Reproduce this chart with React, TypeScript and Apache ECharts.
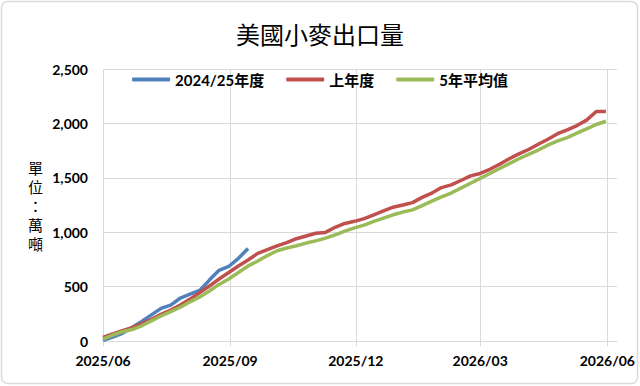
import React, { useEffect, useRef } from "react";
import * as echarts from "echarts";

const weekDates: string[] = [
  "2025-06-01", "2025-06-08", "2025-06-15", "2025-06-22", "2025-06-29",
  "2025-07-06", "2025-07-13", "2025-07-20", "2025-07-27", "2025-08-03",
  "2025-08-10", "2025-08-17", "2025-08-24", "2025-08-31", "2025-09-07",
  "2025-09-14", "2025-09-21", "2025-09-28", "2025-10-05", "2025-10-12",
  "2025-10-19", "2025-10-26", "2025-11-02", "2025-11-09", "2025-11-16",
  "2025-11-23", "2025-11-30", "2025-12-07", "2025-12-14", "2025-12-21",
  "2025-12-28", "2026-01-04", "2026-01-11", "2026-01-18", "2026-01-25",
  "2026-02-01", "2026-02-08", "2026-02-15", "2026-02-22", "2026-03-01",
  "2026-03-08", "2026-03-15", "2026-03-22", "2026-03-29", "2026-04-05",
  "2026-04-12", "2026-04-19", "2026-04-26", "2026-05-03", "2026-05-10",
  "2026-05-17", "2026-05-24", "2026-05-31",
];

const currentYear: number[] = [
  5, 35, 70, 125, 180, 240, 300, 330, 395, 430, 465, 560, 650, 685, 760, 850,
];

const lastYear: number[] = [
  34, 65, 95, 122, 160, 200, 245, 285, 330, 385, 445, 505, 570, 630, 690, 745,
  805, 840, 875, 905, 940, 965, 990, 998, 1045, 1080, 1100, 1125, 1160, 1195,
  1230, 1250, 1272, 1320, 1360, 1410, 1435, 1475, 1518, 1540, 1578, 1625, 1675,
  1720, 1760, 1808, 1855, 1905, 1940, 1980, 2030, 2110, 2110,
];

const fiveYearAvg: number[] = [
  18, 55, 85, 105, 140, 185, 230, 270, 310, 360, 405, 460, 520, 570, 630, 690,
  735, 785, 830, 855, 875, 900, 920, 945, 975, 1010, 1040, 1065, 1100, 1130,
  1160, 1185, 1205, 1245, 1285, 1325, 1360, 1405, 1450, 1495, 1540, 1585, 1630,
  1675, 1715, 1755, 1800, 1840, 1870, 1910, 1950, 1990, 2020,
];

const seriesNames: string[] = ["2024/25年度", "上年度", "5年平均值"];
const xTickDates: string[] = ["2025-06-01", "2025-09-01", "2025-12-01", "2026-03-01", "2026-06-01"];
const xMinDate = "2025-06-01";
const xMaxDate = "2026-06-08";

const toTs = (s: string) => {
  const [y, m, d] = s.split("-").map(Number);
  return new Date(y, m - 1, d).getTime();
};

const pair = (vals: number[]) => vals.map((v, i) => [toTs(weekDates[i]), v]);

const FONT = 'Lato, "Noto Sans CJK TC", sans-serif';

export default function App() {
  const ref = useRef<HTMLDivElement>(null);

  useEffect(() => {
    if (!ref.current) return;
    const chart = echarts.init(ref.current, undefined, { renderer: "svg" });
    const tickVals = xTickDates.map(toTs);
    const lineSeries = (name: string, data: number[], color: string) => ({
      name,
      type: "line",
      data: pair(data),
      symbol: "none",
      showSymbol: false,
      smooth: false,
      lineStyle: { width: 3.5, color },
      itemStyle: { color },
    });
    chart.setOption({
      animation: false,
      backgroundColor: "#ffffff",
      title: {
        text: "美國小麥出口量",
        left: "center",
        top: 16,
        textStyle: {
          fontFamily: '"Noto Sans CJK TC", sans-serif',
          fontSize: 24,
          fontWeight: "normal",
          color: "#000000",
        },
      },
      legend: {
        top: 67,
        left: "center",
        icon: "roundRect",
        itemWidth: 38,
        itemHeight: 4,
        itemGap: 22,
        textStyle: {
          fontFamily: FONT,
          fontSize: 15,
          fontWeight: "bold",
          color: "#000000",
        },
        data: seriesNames,
      },
      grid: { left: 103, right: 23, top: 69, bottom: 45, containLabel: false },
      xAxis: {
        type: "value",
        min: toTs(xMinDate),
        max: toTs(xMaxDate),
        axisLine: { show: true, lineStyle: { color: "#d9d9d9", width: 1 } },
        axisTick: {
          show: true,
          length: 5,
          customValues: tickVals,
          lineStyle: { color: "#d9d9d9", width: 1 },
        },
        splitLine: { show: true, lineStyle: { color: "#d9d9d9", width: 1 } },
        axisLabel: {
          customValues: tickVals,
          margin: 12,
          fontFamily: FONT,
          fontSize: 14,
          fontWeight: "bold",
          color: "#000000",
          formatter: (v: number) => {
            const d = new Date(v);
            const m = d.getMonth() + 1;
            return `${d.getFullYear()}/${m < 10 ? "0" + m : m}`;
          },
        },
      },
      yAxis: {
        type: "value",
        min: 0,
        max: 2500,
        interval: 500,
        name: "單\n位\n：\n萬\n噸",
        nameLocation: "middle",
        nameRotate: 0,
        nameGap: 60,
        nameTextStyle: {
          fontFamily: '"Noto Sans CJK TC", sans-serif',
          fontSize: 15,
          lineHeight: 19,
          color: "#000000",
        },
        axisLine: { show: false },
        axisTick: { show: false },
        splitLine: { show: true, lineStyle: { color: "#d9d9d9", width: 1 } },
        axisLabel: {
          margin: 15,
          fontFamily: FONT,
          fontSize: 14,
          fontWeight: "bold",
          color: "#000000",
          formatter: (v: number) => v.toLocaleString("en-US"),
        },
      },
      graphic: [
        {
          type: "rect",
          shape: { x: 1.5, y: 1.5, width: 636, height: 382, r: 6 },
          style: { fill: "none", stroke: "#d9d9d9", lineWidth: 1.5 },
          silent: true,
          z: -10,
        },
      ],
      series: [
        lineSeries(seriesNames[0], currentYear, "#4F81BD"),
        lineSeries(seriesNames[1], lastYear, "#C0504D"),
        lineSeries(seriesNames[2], fiveYearAvg, "#9BBB59"),
      ],
    });
    return () => chart.dispose();
  }, []);

  return (
    <div
      style={{ position: "absolute", left: 0, top: 0, width: 640, height: 386 }}
    >
      <div ref={ref} style={{ width: 640, height: 386 }} />
    </div>
  );
}
